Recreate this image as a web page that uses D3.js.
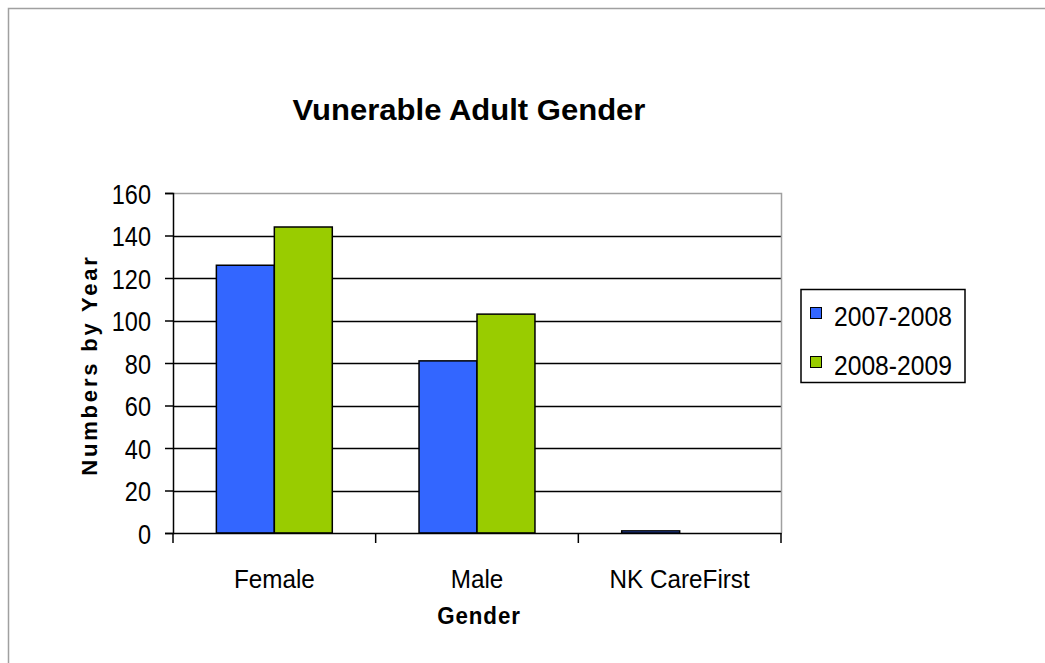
<!DOCTYPE html>
<html>
<head>
<meta charset="utf-8">
<script src="https://cdn.jsdelivr.net/npm/d3@7"></script>
<style>
body{margin:0;background:#fff;}
text{font-family:"Liberation Sans",Arial,sans-serif;fill:#000;}
</style>
</head>
<body>
<div id="chart"></div>
<script>
// datos del grafico
var categories = ["Female", "Male", "NK CareFirst"];
var seriesNames = ["2007-2008", "2008-2009"];
var values2007 = [126, 81, 1];
var values2008 = [144, 103, 0];
var yTicks = [0, 20, 40, 60, 80, 100, 120, 140, 160];
var colors = ["#3366ff", "#99cc00"];

var W = 1045, H = 663;
// ojo: "top" es window.top, por eso pTop
var pLeft = 173, pRight = 781, pTop = 193, pBottom = 533;

var svg = d3.select("#chart").append("svg").attr("width", W).attr("height", H);

// borde exterior (solo arriba e izquierda se ven)
svg.append("path").attr("d", "M8.5,663V8.5H1045")
  .attr("fill", "none").attr("stroke", "#a0a0a0").attr("stroke-width", 1.5);

var x0 = d3.scaleBand().domain(categories).range([pLeft, pRight]).paddingInner(0.428).paddingOuter(0.214);
var x1 = d3.scaleBand().domain(seriesNames).range([0, x0.bandwidth()]);
var y = d3.scaleLinear().domain([0, 160]).range([pBottom, pTop]);

// condensar el texto en horizontal como el original
function squeeze(sel, f){
  sel.each(function(){
    this.setAttribute("textLength", this.getComputedTextLength() * f);
    this.setAttribute("lengthAdjust", "spacingAndGlyphs");
  });
}

// lineas de rejilla
svg.append("g").selectAll("line").data(yTicks.filter(function(d){return d > 0 && d < 160;}))
  .enter().append("line")
  .attr("x1", pLeft).attr("x2", pRight)
  .attr("y1", function(d){return Math.round(y(d)) + 0.5;})
  .attr("y2", function(d){return Math.round(y(d)) + 0.5;})
  .attr("stroke", "#000").attr("stroke-width", 1.5);

// borde del area (gris, arriba y derecha)
svg.append("path").attr("d", "M" + pLeft + "," + (pTop + 0.5) + "H" + (pRight + 0.5) + "V" + pBottom)
  .attr("fill", "none").attr("stroke", "#a0a0a0").attr("stroke-width", 1.5);

// barras
var data = categories.map(function(c, i){
  return {cat: c, vals: [values2007[i], values2008[i]]};
});
var groups = svg.append("g").selectAll("g").data(data).enter().append("g")
  .attr("transform", function(d){return "translate(" + x0(d.cat) + ",0)";});
groups.selectAll("rect").data(function(d){
    return d.vals.map(function(v, j){return {name: seriesNames[j], v: v, j: j};});
  })
  .enter().filter(function(d){return d.v > 0;}).append("rect")
  .attr("x", function(d){return x1(d.name);})
  .attr("width", x1.bandwidth())
  .attr("y", function(d){return y(d.v);})
  .attr("height", function(d){return y(0) - y(d.v);})
  .attr("fill", function(d){return colors[d.j];})
  .attr("stroke", "#000").attr("stroke-width", 1.5);

// eje y
var yAxis = svg.append("g").attr("transform", "translate(" + pLeft + ",0)")
  .call(d3.axisLeft(y).tickValues(yTicks).tickSize(8).tickPadding(14));
yAxis.select(".domain").attr("stroke", "#000").attr("stroke-width", 1.5);
yAxis.selectAll(".tick line").attr("stroke", "#000").attr("stroke-width", 1.5);
yAxis.selectAll(".tick text").attr("font-size", 27).attr("dy", "0.38em")
  .style("font-family", "Liberation Sans, Arial, sans-serif").attr("fill", "#000").call(squeeze, 0.87);

// eje x
var xEdges = d3.range(categories.length + 1).map(function(i){
  return pLeft + i * x0.step();
});
svg.append("line").attr("x1", pLeft).attr("x2", pRight + 0.5)
  .attr("y1", pBottom + 0.5).attr("y2", pBottom + 0.5)
  .attr("stroke", "#000").attr("stroke-width", 1.5);
svg.append("g").selectAll("line").data(xEdges).enter().append("line")
  .attr("x1", function(d){return d;}).attr("x2", function(d){return d;})
  .attr("y1", pBottom).attr("y2", pBottom + 10)
  .attr("stroke", "#000").attr("stroke-width", 1.5);
svg.append("g").selectAll("text").data(categories).enter().append("text")
  .attr("x", function(d){return x0(d) + x0.bandwidth() / 2;})
  .attr("y", 588).attr("text-anchor", "middle").attr("font-size", 25)
  .text(function(d){return d;}).call(squeeze, 0.97);

// titulos
svg.append("text").attr("x", 469).attr("y", 120).attr("text-anchor", "middle")
  .attr("font-size", 29).attr("font-weight", "bold").text("Vunerable Adult Gender")
  .call(squeeze, 1.07);
svg.append("text").attr("transform", "translate(97,365) rotate(-90)")
  .attr("text-anchor", "middle").attr("font-size", 22).attr("font-weight", "bold")
  .attr("letter-spacing", 2.8).text("Numbers by Year");
svg.append("text").attr("x", 479).attr("y", 624).attr("text-anchor", "middle")
  .attr("font-size", 24).attr("font-weight", "bold").attr("letter-spacing", 1)
  .text("Gender").call(squeeze, 0.93);

// leyenda
var legend = svg.append("g");
legend.append("rect").attr("x", 801).attr("y", 289.5).attr("width", 164).attr("height", 93)
  .attr("fill", "#fff").attr("stroke", "#000").attr("stroke-width", 1.5);
var items = legend.selectAll("g.item").data(seriesNames).enter().append("g").attr("class", "item")
  .attr("transform", function(d, i){return "translate(0," + (i * 49) + ")";});
items.append("rect").attr("x", 810.5).attr("y", 307.5).attr("width", 11).attr("height", 11)
  .attr("fill", function(d, i){return colors[i];}).attr("stroke", "#000").attr("stroke-width", 1);
items.append("text").attr("x", 834).attr("y", 325.5).attr("font-size", 28)
  .text(function(d){return d;}).call(squeeze, 0.88);
</script>
</body>
</html>
